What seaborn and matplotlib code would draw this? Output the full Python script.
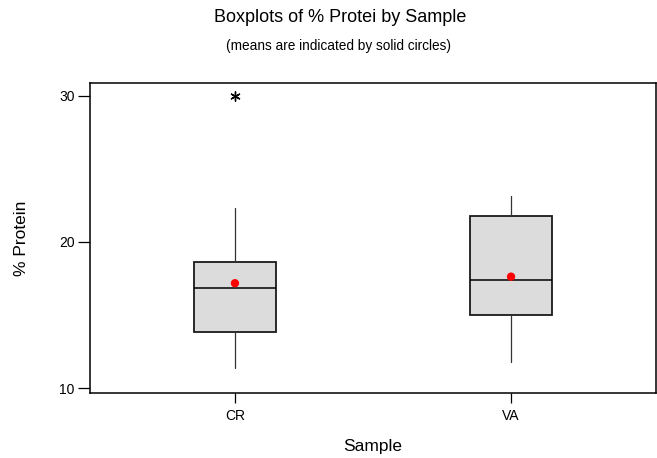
import matplotlib
matplotlib.use("Agg")
import matplotlib.pyplot as plt
import seaborn as sns
import pandas as pd

# ---- data ----
samples = ["CR", "VA"]
whisker_low = [11.37, 11.82]
q1 = [13.83, 15.01]
median = [16.84, 17.40]
q3 = [18.61, 21.80]
whisker_high = [22.34, 23.14]
means = [17.18, 17.63]
outlier_sample = ["CR"]
outlier_value = [30.0]
y_ticks = [10, 20, 30]

sns.set_theme(style="white")
plt.rcParams['font.family'] = ['Liberation Sans', 'DejaVu Sans']
plt.rcParams['text.color'] = 'black'
plt.rcParams['axes.labelcolor'] = 'black'
plt.rcParams['xtick.color'] = 'black'
plt.rcParams['ytick.color'] = 'black'

W, H = 657, 458
fig = plt.figure(figsize=(W / 100, H / 100), dpi=100)
L, R, T, B = 90, 656, 83, 392.7
ax = fig.add_axes([L / W, 1 - B / H, (R - L) / W, (B - T) / H])

positions = list(range(len(samples)))
stats = [dict(label=s, whislo=wl, q1=a, med=m, q3=b, whishi=wh, fliers=[])
         for s, wl, a, m, b, wh in zip(samples, whisker_low, q1, median, q3, whisker_high)]
ax.bxp(stats, positions=positions, widths=0.30, patch_artist=True,
       showfliers=False, showcaps=False,
       boxprops=dict(facecolor="#DCDCDC", edgecolor="#1a1a1a", linewidth=1.3),
       medianprops=dict(color="black", linewidth=1.1),
       whiskerprops=dict(color="#333333", linewidth=0.9))

mean_df = pd.DataFrame({"pos": positions, "mean": means})
sns.scatterplot(data=mean_df, x="pos", y="mean", color="red", s=36,
                edgecolor="none", ax=ax, zorder=5, legend=False)

out_df = pd.DataFrame({"pos": [samples.index(s) for s in outlier_sample],
                       "val": outlier_value})
sns.scatterplot(data=out_df, x="pos", y="val", marker=(6, 2, 0), s=45,
                color="black", linewidth=1.0, ax=ax, zorder=5, legend=False)

ax.set_xlim(-0.525, 1.525)
ax.set_ylim(9.70, 30.86)
ax.set_yticks(y_ticks)
ax.set_yticklabels([str(t) for t in y_ticks], fontsize=10)
ax.set_xticks(positions)
ax.set_xticklabels(samples, fontsize=10)
ax.tick_params(axis="y", direction="out", length=9, width=0.9, pad=2, left=True)
ax.tick_params(axis="x", direction="out", length=7, width=0.9, pad=5, bottom=True)
for sp in ax.spines.values():
    sp.set_visible(True)
    sp.set_color("black")
    sp.set_linewidth(1.1)

ax.set_xlabel("Sample", fontsize=12.5)
ax.set_ylabel("% Protein", fontsize=12.5)
ax.xaxis.set_label_coords(0.5, (B - 447) / (B - T))
ax.xaxis.label.set_va("center")
ax.yaxis.set_label_coords((22 - L) / (R - L), 0.5)
ax.yaxis.label.set_va("center")

fig.text(340 / W, 1 - 17 / H, "Boxplots of % Protei by Sample",
         ha="center", va="center", fontsize=13)
fig.text(338 / W, 1 - 46 / H, "(means are indicated by solid circles)",
         ha="center", va="center", fontsize=9.8)

fig.savefig("out.png", dpi=100)
